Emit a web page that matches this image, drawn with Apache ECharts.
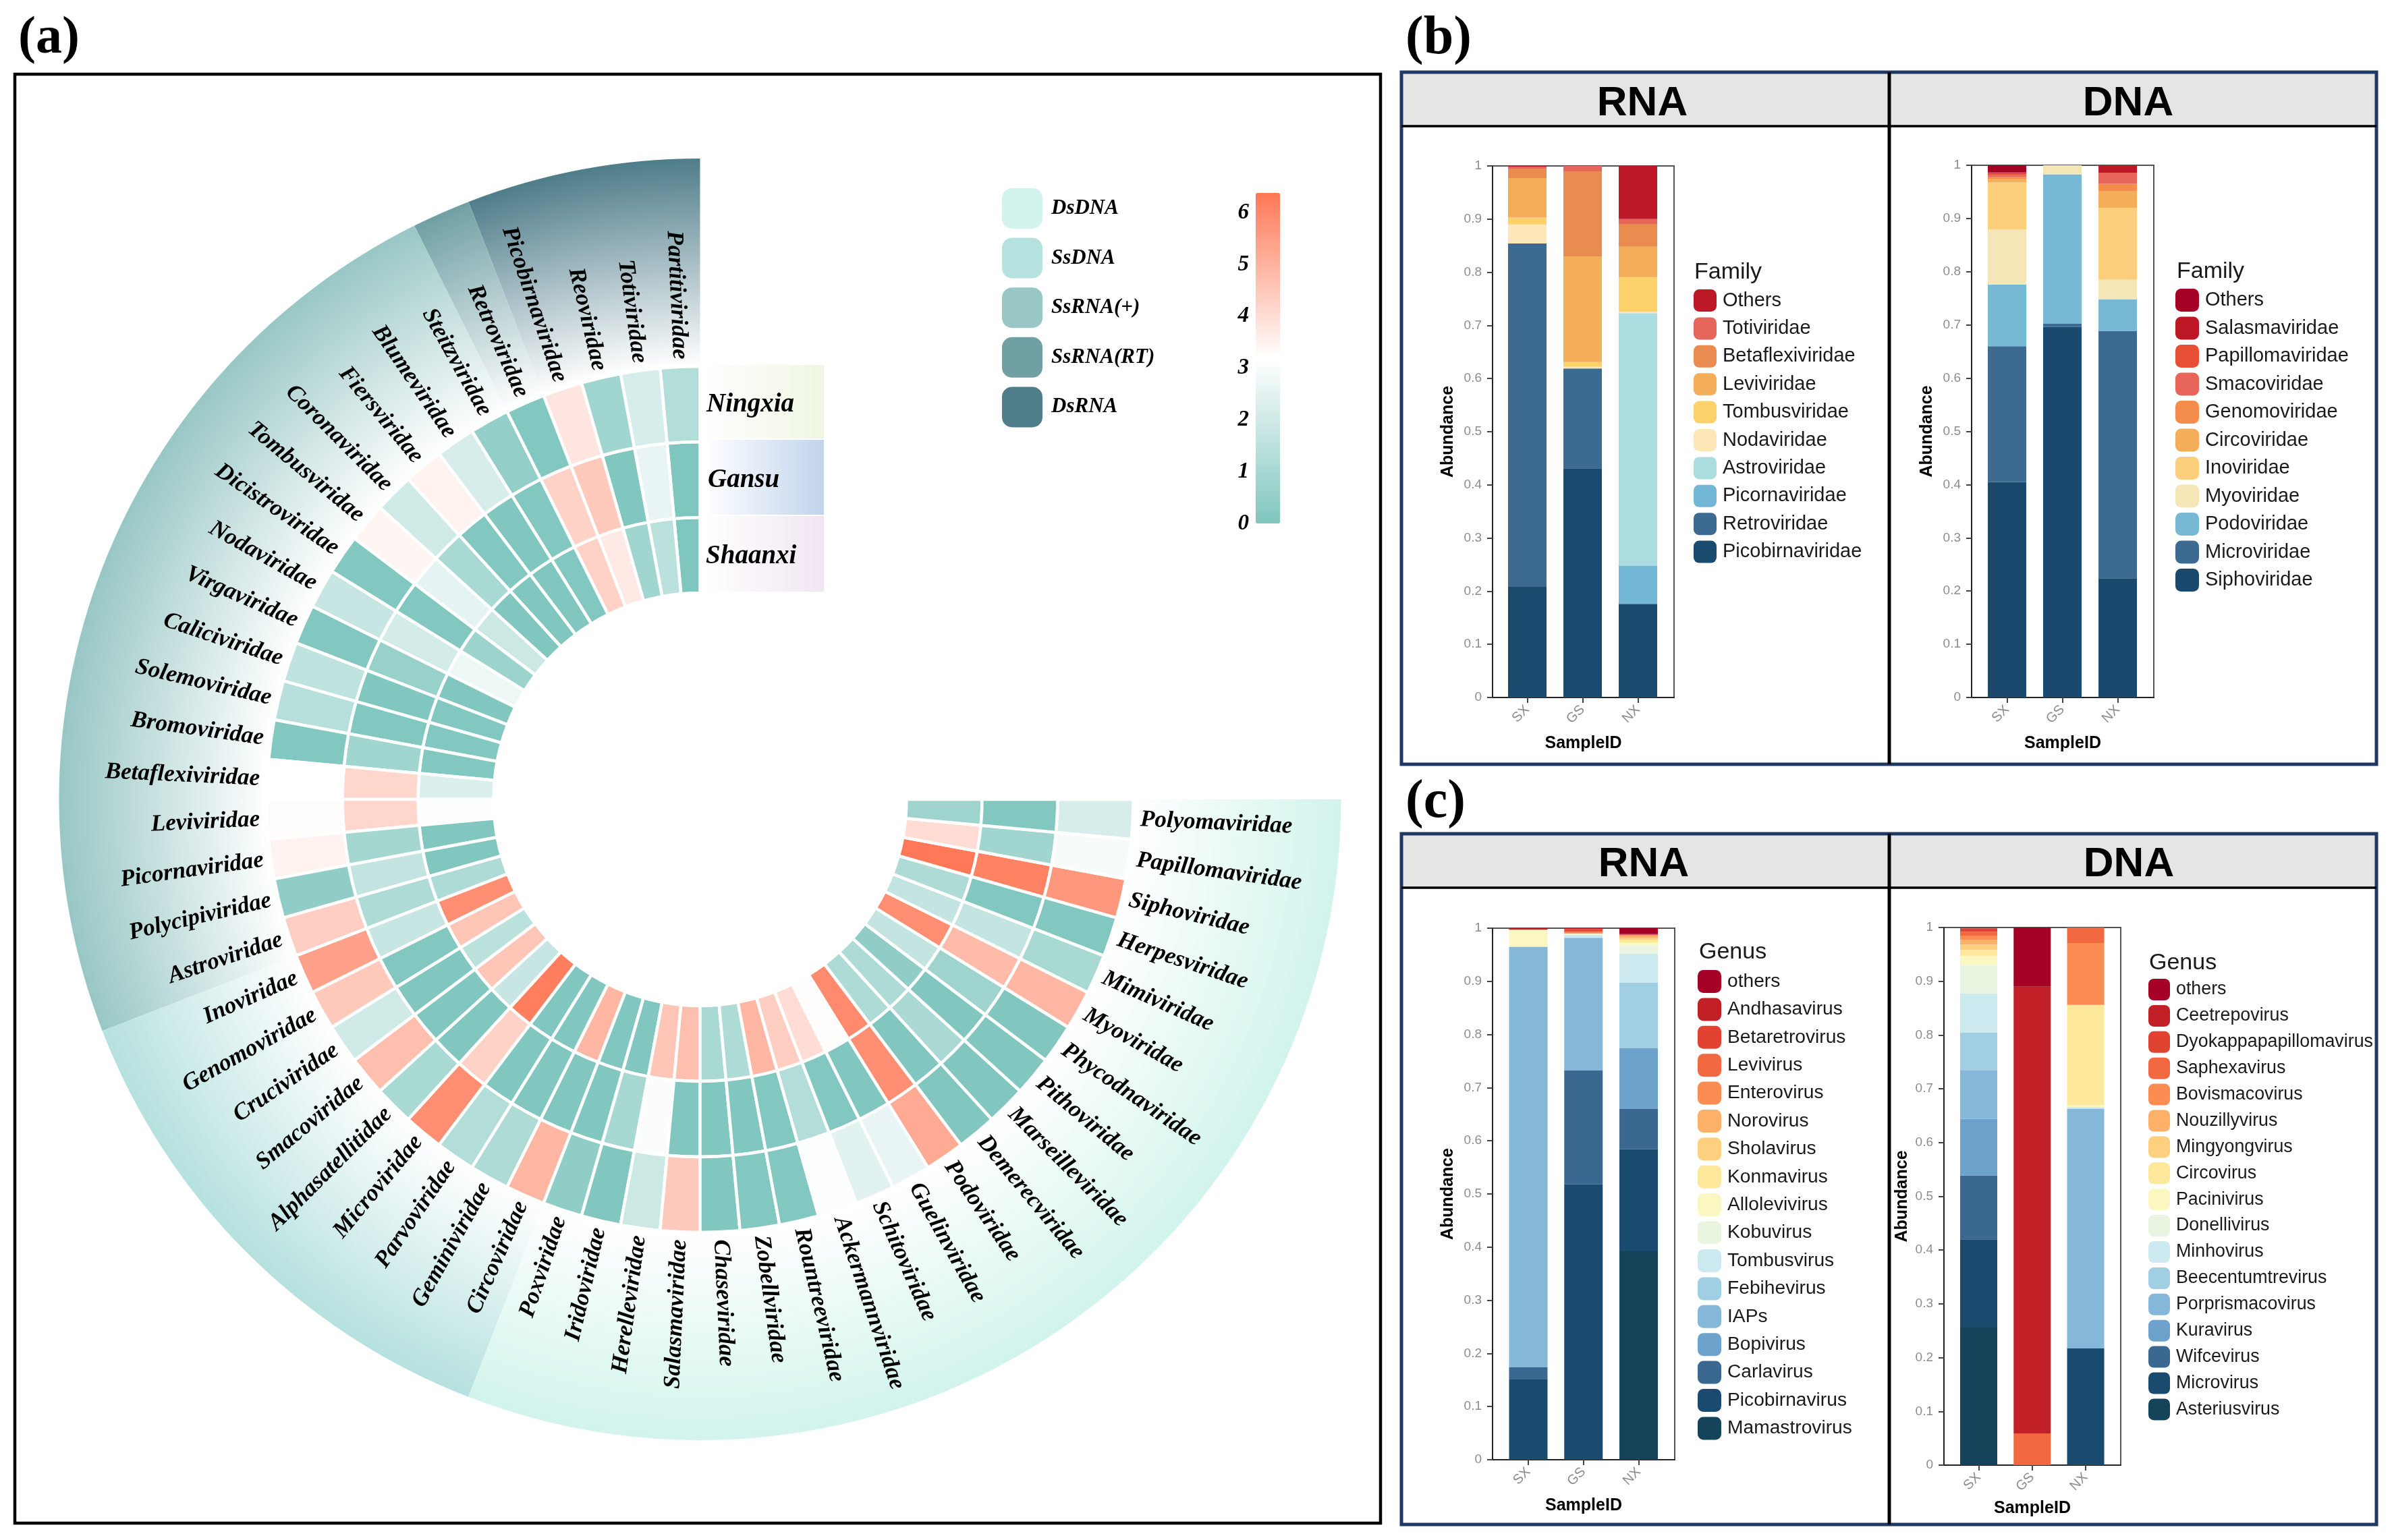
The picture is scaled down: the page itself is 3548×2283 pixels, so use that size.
<!DOCTYPE html>
<html><head><meta charset="utf-8">
<style>html,body{margin:0;padding:0;background:#fff}#c{width:3548px;height:2283px}</style>
<script src="https://cdn.jsdelivr.net/npm/echarts@6/dist/echarts.min.js"></script>
</head><body><div id="c"></div>
<script>
// ---------- panel (a) data ----------
const families=['Partitiviridae','Totiviridae','Reoviridae','Picobirnaviridae','Retroviridae','Steitzviridae','Blumeviridae','Fiersviridae','Coronaviridae','Tombusviridae','Dicistroviridae','Nodaviridae','Virgaviridae','Caliciviridae','Solemoviridae','Bromoviridae','Betaflexiviridae','Leviviridae','Picornaviridae','Polycipiviridae','Astroviridae','Inoviridae','Genomoviridae','Cruciviridae','Smacoviridae','Alphasatellitidae','Microviridae','Parvoviridae','Geminiviridae','Circoviridae','Poxviridae','Iridoviridae','Herelleviridae','Salasmaviridae','Chaseviridae','Zobellviridae','Rountreeviridae','Ackermannviridae','Schitoviridae','Guelinviridae','Podoviridae','Demerecviridae','Marseilleviridae','Pithoviridae','Phycodnaviridae','Myoviridae','Mimiviridae','Herpesviridae','Siphoviridae','Papillomaviridae','Polyomaviridae'];
const ningxia=[1.3,2.2,.85,3.8,.1,.5,2.2,3.5,2,3.4,.1,1.8,.1,1.6,1.4,.1,3.2,3.25,3.5,.4,4.35,5.4,4.45,2,4.7,1.05,5.85,1.3,1.2,4.9,.4,.05,1.9,4.45,.05,.1,.1,3.15,2.45,2.65,5.2,.05,.05,.05,.05,4.9,1.05,.1,5.65,3,2.2];
const gansu=[0,2.65,.05,4.45,4.25,.1,.05,.1,1.05,2.55,.1,2.1,.6,.05,.1,.85,4.15,4.15,.95,1.7,1.2,1.8,.1,.05,.05,.05,4.25,.05,.05,.05,.05,1,3.1,.05,.05,.05,.1,1.3,.1,.05,5.85,.05,1.1,.05,.8,4.8,1.7,.1,6.15,.85,.1];
const shaanxi=[0,1.5,.85,3.7,4.25,.1,.05,.05,.05,1.9,.75,2.75,.05,.1,.1,.1,2.3,3.15,.05,.05,1.2,5.85,4.55,1.5,4.55,1.8,6.25,.05,.05,4.9,.05,.05,4.55,4.7,1.05,1.2,4.9,4.35,4,3.25,5.95,1.2,1.2,.4,1.7,5.85,1.7,1.2,6.35,4,.8];
const regions=['Ningxia','Gansu','Shaanxi'];
const groupNames=['DsRNA','SsRNA(RT)','SsRNA(+)','SsDNA','DsDNA'];
const groupStart=[0,4,5,21,30];
const groupEnd=[4,5,21,30,51];
const groupColors=['#4F7D8A','#70A0A4','#98C7C5','#B5E1DF','#D2F4EC'];
const scaleTicks=[0,1,2,3,4,5,6];
// ---------- stacked bar data ----------
const sampleIDs=['SX','GS','NX'];
const famRnaNames=['Picobirnaviridae','Retroviridae','Picornaviridae','Astroviridae','Nodaviridae','Tombusviridae','Leviviridae','Betaflexiviridae','Totiviridae','Others'];
const famRnaColors=['#1A4A6D','#3D6A90','#72B8D6','#ABDCE0','#FDE6B8','#FCD16A','#F4AD59','#E98C4F','#E7655A','#BC1828'];
const famRnaSX=[.208,.646,0,0,.036,.013,.074,.018,.003,.002];
const famRnaGS=[.431,.188,0,0,.003,.009,.199,.160,.010,0];
const famRnaNX=[.176,0,.072,.475,.003,.065,.057,.043,.009,.100];
const famDnaNames=['Siphoviridae','Microviridae','Podoviridae','Myoviridae','Inoviridae','Circoviridae','Genomoviridae','Smacoviridae','Papillomaviridae','Salasmaviridae','Others'];
const famDnaColors=['#1B486D','#3D6A90','#77B9D5','#F5E6B8','#FBCF7C','#F4AD59','#F48C4B','#E7655A','#E74F35','#BE1827','#A50026'];
const famDnaSX=[.405,.255,.116,.103,.089,.006,.004,.004,.003,.002,.013];
const famDnaGS=[.696,.006,.281,.017,0,0,0,0,0,0,0];
const famDnaNX=[.224,.465,.059,.037,.135,.031,.014,.021,0,.014,0];
const genusPalette=['#15445A','#1A4A6D','#3A6890','#6DA2CD','#85B8D8','#A0CEE3','#CCE9F0','#E9F5E1','#FAF8C0','#FEE89B','#FDD07F','#FDB067','#FC8D52','#F26841','#E04331','#C22027','#A50026'];
const genRnaNames=['Mamastrovirus','Picobirnavirus','Carlavirus','Bopivirus','IAPs','Febihevirus','Tombusvirus','Kobuvirus','Allolevivirus','Konmavirus','Sholavirus','Norovirus','Enterovirus','Levivirus','Betaretrovirus','Andhasavirus','others'];
const genRnaSX=[0,.151,.023,0,.791,0,0,0,.032,0,0,0,0,0,0,.003,0];
const genRnaGS=[0,.518,.215,0,.249,0,.006,0,.002,0,0,0,.002,.002,.004,.002,0];
const genRnaNX=[.392,.192,.076,.114,0,.124,.054,.016,.005,.005,.004,.003,.002,0,.001,.001,.011];
const genDnaNames=['Asteriusvirus','Microvirus','Wifcevirus','Kuravirus','Porprismacovirus','Beecentumtrevirus','Minhovirus','Donellivirus','Pacinivirus','Circovirus','Mingyongvirus','Nouzillyvirus','Bovismacovirus','Saphexavirus','Dyokappapapillomavirus','Ceetrepovirus','others'];
const genDnaSX=[.256,.164,.119,.105,.091,.070,.072,.053,.017,.011,.010,.009,.008,.007,.006,.002,0];
const genDnaGS=[0,0,0,0,0,0,0,0,0,0,0,0,0,.059,0,.831,.110];
const genDnaNX=[0,.217,0,0,.446,0,.003,0,.004,.186,0,0,.115,.029,0,0,0];

// ---------- layout ----------
const CX=1037.5,CY=1185,R0=306,R1=950;
const SERIF='"Liberation Serif"',SANS='"Liberation Sans"';
const panels=[
 {g:[2212,246,269,788],xr:[.372,3.652],bw:57,names:famRnaNames,colors:famRnaColors,vals:[famRnaSX,famRnaGS,famRnaNX],leg:[2510,429,34,33,8.4,29],title:'Family',tp:[2511,404],ng:56,yg:53},
 {g:[2922,245,270,789],xr:[.36,3.652],bw:57,names:famDnaNames,colors:famDnaColors,vals:[famDnaSX,famDnaGS,famDnaNX],leg:[3224,428,35,34,7.5,29],title:'Family',tp:[3226,403],ng:56,yg:53},
 {g:[2212,1376,270,788],xr:[.352,3.654],bw:57,names:genRnaNames,colors:genusPalette,vals:[genRnaSX,genRnaGS,genRnaNX],leg:[2516,1438,35,34,7.4,28.2],title:'Genus',tp:[2518,1412],ng:56,yg:53},
 {g:[2881,1375,262,797],xr:[.35,3.656],bw:55,names:genDnaNames,colors:genusPalette,vals:[genDnaSX,genDnaGS,genDnaNX],leg:[3184,1451,32,32,6.9,26.8],title:'Genus',tp:[3185,1428],ng:52,yg:49}
];

// ---------- helpers ----------
function txt(text,x,y,font,align,fill,extra){
  return Object.assign({type:'text',x:x,y:y,z:20,silent:true,style:{text:text,font:font,align:align||'center',textAlign:align||'center',verticalAlign:'middle',textVerticalAlign:'middle',fill:fill||'#000'}},extra||{});
}
function polarSector(params,api,r0v,r1v,a0v,a1v,style){
  const cs=params.coordSys;
  const pa=api.coord([r1v,a0v]),pb=api.coord([r1v,a1v]),pc=api.coord([r0v,a0v]);
  const rOut=Math.hypot(pa[0]-cs.cx,pa[1]-cs.cy),rIn=Math.hypot(pc[0]-cs.cx,pc[1]-cs.cy);
  const angA=Math.atan2(pa[1]-cs.cy,pa[0]-cs.cx),angB=Math.atan2(pb[1]-cs.cy,pb[0]-cs.cx);
  return {type:'sector',shape:{cx:cs.cx,cy:cs.cy,r0:rIn,r:rOut,startAngle:angB,endAngle:angA,clockwise:true},style:style};
}
const RMAX=5.75,ANGMAX=68;

// ---------- series ----------
const series=[];
// band series, one per genome type
groupNames.forEach((n,i)=>{
  const grad=new echarts.graphic.RadialGradient(CX,CY,R1,[{offset:0,color:'#fff'},{offset:.675,color:'#fff'},{offset:1,color:groupColors[i]}],true);
  series.push({type:'custom',name:n,coordinateSystem:'polar',silent:true,z:1,data:[[groupStart[i],groupEnd[i]]],encode:{angle:0},
    renderItem:(params,api)=>polarSector(params,api,3.03,RMAX,api.value(0),api.value(1),{fill:grad})});
});
// heat cells
const cellData=[];
[shaanxi,gansu,ningxia].forEach((arr,row)=>arr.forEach((v,i)=>cellData.push([i,row,v])));
const heatIndex=series.length;
series.push({type:'custom',name:'abundance',coordinateSystem:'polar',silent:true,z:2,data:cellData,encode:{angle:0,radius:1},dimensions:['a','r','v'],
  renderItem:(params,api)=>{
    const a=api.value(0),r=api.value(1);
    return polarSector(params,api,r,r+1,a,a+1,{fill:api.visual('color'),stroke:'#fff',lineWidth:4.5});
  }});
// radial family labels
series.push({type:'custom',name:'labels',coordinateSystem:'polar',silent:true,z:3,data:families.map((f,i)=>[i,f]),encode:{angle:0},
  dimensions:[{name:'i',type:'number'},{name:'f',type:'ordinal'}],
  renderItem:(params,api)=>{
    const i=params.dataIndex,cs=params.coordSys;
    const p=api.coord([3.1,i+.5]);
    const th=Math.atan2(-(p[1]-cs.cy),p[0]-cs.cx); // math angle
    let deg=th*180/Math.PI; if(deg<0)deg+=360;
    const left=deg<270;
    const rot=(left?deg-180:deg-360)*Math.PI/180;
    return {type:'text',x:p[0],y:p[1],rotation:rot,style:{text:families[i],font:'italic bold 35px '+SERIF,align:left?'right':'left',textAlign:left?'right':'left',verticalAlign:'middle',textVerticalAlign:'middle',fill:'#000'}};
  }});
// stacked bars
const grids=[],xAxes=[],yAxes=[],legends=[],gfx=[];
panels.forEach((P,pi)=>{
  grids.push({left:P.g[0],top:P.g[1],width:P.g[2],height:P.g[3],show:true,borderColor:'#555',borderWidth:2,backgroundColor:'transparent',containLabel:false});
  xAxes.push({type:'value',gridIndex:pi,min:P.xr[0],max:P.xr[1],name:'SampleID',nameLocation:'middle',nameGap:P.ng,
    nameTextStyle:{fontFamily:SANS,fontWeight:'bold',fontSize:25,color:'#000',letterSpacing:0},
    splitLine:{show:false},axisLine:{onZero:false,lineStyle:{color:'#222',width:2}},
    axisTick:{show:true,length:8,customValues:[1,2,3],lineStyle:{color:'#444',width:2}},
    axisLabel:{customValues:[1,2,3],rotate:45,margin:15,color:'#8c8c8c',fontFamily:SANS,fontSize:20,formatter:v=>sampleIDs[Math.round(v)-1]}});
  yAxes.push({type:'value',gridIndex:pi,min:0,max:1,interval:.1,name:'Abundance',nameLocation:'middle',nameGap:P.yg,
    nameTextStyle:{fontFamily:SANS,fontWeight:'bold',fontSize:25,color:'#000'},
    splitLine:{show:false},axisLine:{show:true,onZero:false,lineStyle:{color:'#222',width:2}},
    axisTick:{show:true,length:8,lineStyle:{color:'#444',width:2}},
    axisLabel:{margin:16,color:'#8c8c8c',fontFamily:SANS,fontSize:19}});
  P.names.forEach((n,si)=>{
    series.push({type:'bar',name:n,xAxisIndex:pi,yAxisIndex:pi,stack:'panel'+pi,barWidth:P.bw,silent:true,z:5,encode:{x:1,y:0},
      itemStyle:{color:P.colors[si]},data:P.vals.map((col,k)=>[col[si],k+1])});
  });
  legends.push({left:P.leg[0],top:P.leg[1],orient:'vertical',padding:0,itemWidth:P.leg[2],itemHeight:P.leg[3],itemGap:P.leg[4],selectedMode:false,icon:'roundRect',
    textStyle:{fontFamily:SANS,fontSize:P.leg[5],color:'#1a1a1a',padding:[0,0,0,4]},
    data:P.names.map((n,si)=>({name:n,itemStyle:{color:P.colors[si]}})).reverse()});
  gfx.push(txt(P.title,P.tp[0],P.tp[1],'34px '+SANS,'left','#1a1a1a'));
});
// genome type legend in (a)
legends.push({left:1485,top:279,orient:'vertical',padding:0,itemWidth:60,itemHeight:60,itemGap:13.6,selectedMode:false,icon:'roundRect',
  textStyle:{fontFamily:SERIF,fontWeight:'bold',fontStyle:'italic',fontSize:31,color:'#000',padding:[2,0,0,8]},
  data:[4,3,2,1,0].map(i=>({name:groupNames[i],itemStyle:{color:groupColors[i]}}))});
// colour bar axis
grids.push({left:1861,top:286,width:36,height:490,show:false});
xAxes.push({type:'value',gridIndex:4,show:false,min:0,max:1});
yAxes.push({type:'value',gridIndex:4,min:0,max:6.38,interval:1,splitLine:{show:false},axisLine:{show:false},axisTick:{show:false},
  axisLabel:{margin:10,fontFamily:SERIF,fontWeight:'bold',fontStyle:'italic',fontSize:33,color:'#000',formatter:v=>scaleTicks.includes(v)?String(v):''}});

// ---------- frames & texts ----------
function rect(x,y,w,h,style,z){return {type:'rect',shape:{x:x,y:y,width:w,height:h},style:style,z:z||0,silent:true};}
gfx.push(rect(22,110,2024,2148,{fill:'#fff',stroke:'#000',lineWidth:4.5},-5));
[[2077,107,1133,187],[2077,1236,2260,1316]].forEach(f=>{
  const top=f[1],bot=f[2],hd=f[3];
  gfx.push(rect(f[0],top,1445,hd-top,{fill:'#E5E5E5'},-4));
  gfx.push(rect(f[0],top,1445,bot-top,{fill:'transparent',stroke:'#1F3864',lineWidth:5},-2));
  gfx.push({type:'line',shape:{x1:f[0],y1:hd,x2:3522,y2:hd},style:{stroke:'#000',lineWidth:3.5},z:-1,silent:true});
  gfx.push({type:'line',shape:{x1:2800,y1:top,x2:2800,y2:bot},style:{stroke:'#000',lineWidth:5},z:-1,silent:true});
});
gfx.push(txt('(a)',27,58,'bold 78px '+SERIF,'left'));
gfx.push(txt('(b)',2083,58,'bold 80px '+SERIF,'left'));
gfx.push(txt('(c)',2083,1190,'bold 80px '+SERIF,'left'));
[['RNA',2434,154],['DNA',3154,154],['RNA',2436,1282],['DNA',3155,1282]].forEach(t=>gfx.push(txt(t[0],t[1],t[2],'bold 62px '+SANS)));
// region boxes
const regionFill=['#EEF6E2','#C2D4EC','#F0E6F2'];
const regionY=[[541,650],[652,763],[765,877]];
const regionTx=[1047,1049,1046];
regions.forEach((n,i)=>{
  gfx.push({type:'rect',z:1,silent:true,shape:{x:1043,y:regionY[i][0],width:178,height:regionY[i][1]-regionY[i][0]},
    style:{fill:new echarts.graphic.LinearGradient(0,0,1,0,[{offset:0,color:'#fff'},{offset:1,color:regionFill[i]}])}});
  gfx.push(txt(n,regionTx[i],(regionY[i][0]+regionY[i][1])/2+4,'italic bold 39px '+SERIF,'left'));
});

const chart=echarts.init(document.getElementById('c'),null,{renderer:'canvas'});
chart.setOption({
  animation:false,backgroundColor:'#fff',tooltip:{show:false},
  polar:{center:[CX,CY],radius:[R0,R1]},
  angleAxis:{type:'value',min:0,max:ANGMAX,startAngle:90,clockwise:false,axisLine:{show:false},axisTick:{show:false},axisLabel:{show:false},splitLine:{show:false}},
  radiusAxis:{type:'value',min:0,max:RMAX,axisLine:{show:false},axisTick:{show:false},axisLabel:{show:false},splitLine:{show:false}},
  grid:grids,xAxis:xAxes,yAxis:yAxes,legend:legends,
  visualMap:{type:'continuous',min:0,max:6.38,dimension:2,seriesIndex:heatIndex,left:1861,top:286,itemWidth:36,itemHeight:490,padding:0,text:null,showLabel:false,calculable:false,hoverLink:false,realtime:false,inRange:{color:['#7FC6BE','#FFFFFF','#FF7856']}},
  graphic:{elements:gfx},
  series:series
});
</script></body></html>
